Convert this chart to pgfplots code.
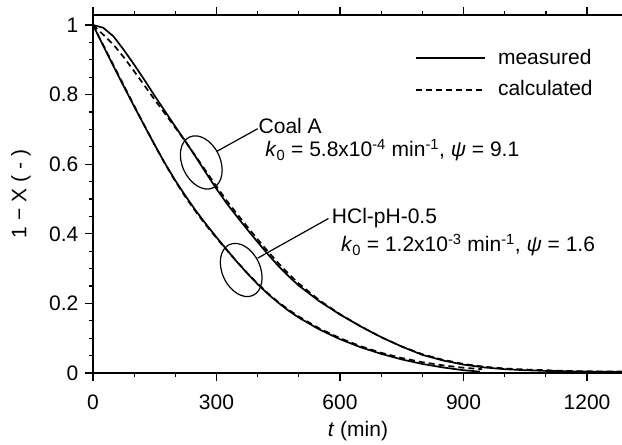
\documentclass[border=0pt]{standalone}
\usepackage{fontspec}
\setmainfont{Liberation Sans}
\usepackage{pgfplots}
\usepackage{pgfplotstable}
\pgfplotsset{compat=1.18}
\usetikzlibrary{shapes.geometric}

\pgfplotstableread{
t y
0 1.000
25 0.992
50 0.967
75 0.928
100 0.886
125 0.842
150 0.796
175 0.752
200 0.708
225 0.665
250 0.620
275 0.574
300 0.529
325 0.487
350 0.449
375 0.412
400 0.376
425 0.341
450 0.308
475 0.278
500 0.251
550 0.206
600 0.168
650 0.134
700 0.103
750 0.076
800 0.052
850 0.036
900 0.024
950 0.016
1000 0.011
1050 0.008
1100 0.006
1150 0.005
1200 0.004
1300 0.003
}\coalmeas

\pgfplotstableread{
t y
0 1.000
25 0.972
50 0.943
75 0.907
100 0.867
125 0.826
150 0.785
175 0.745
200 0.705
225 0.664
250 0.622
275 0.579
300 0.536
325 0.495
350 0.457
375 0.420
400 0.384
425 0.349
450 0.316
475 0.285
500 0.257
550 0.209
600 0.169
650 0.134
700 0.103
750 0.076
800 0.054
850 0.038
900 0.026
950 0.018
1000 0.013
1050 0.010
1100 0.008
1150 0.006
1200 0.005
1300 0.004
}\coalcalc

\pgfplotstableread{
t y
0 1.000
25 0.940
50 0.881
75 0.823
100 0.766
125 0.710
150 0.655
175 0.602
200 0.553
225 0.508
250 0.466
275 0.427
300 0.390
325 0.354
350 0.319
375 0.286
400 0.255
425 0.227
450 0.202
475 0.179
500 0.159
550 0.125
600 0.097
650 0.074
700 0.055
750 0.039
800 0.026
850 0.016
900 0.008
940 0.004
}\hclmeas

\pgfplotstableread{
t y
0 1.000
25 0.942
50 0.884
75 0.826
100 0.768
125 0.711
150 0.655
175 0.601
200 0.551
225 0.505
250 0.463
275 0.424
300 0.388
325 0.353
350 0.319
375 0.287
400 0.257
425 0.229
450 0.204
475 0.182
500 0.162
550 0.128
600 0.100
650 0.077
700 0.058
750 0.043
800 0.031
850 0.022
900 0.015
945 0.011
}\hclcalc

\begin{document}
\fontsize{21}{25}\selectfont
\begin{tikzpicture}
\begin{axis}[
  name=ax,
  at={(0pt,0pt)}, anchor=south west,
  scale only axis, width=535.2pt, height=358pt,
  xmin=0, xmax=1300, ymin=0, ymax=1.0287,
  axis line style={line width=1.4pt},
  tick align=outside,
  xtick pos=both, ytick pos=left,
  major tick length=7.5pt, minor tick length=4pt,
  tick style={line width=1.2pt, black},
  xtick={0,300,600,900,1200}, minor x tick num=2,
  ytick={0,0.2,0.4,0.6,0.8,1}, minor y tick num=3,
  /pgf/number format/assume math mode=true,
  /pgf/number format/1000 sep={},
  tick label style={font=\fontsize{21}{25}\selectfont},
  xticklabel style={yshift=-7pt},
  xlabel={\textit{t} (min)},
  ylabel={1 − X ( - )},
  xlabel style={at={(axis description cs:0.495,-0.162)}, anchor=center},
  ylabel style={at={(axis description cs:-0.1345,0.5)}, anchor=center},
  legend style={draw=none, fill=none, at={(axis description cs:0.6016,0.835)}, anchor=west,
    font=\fontsize{21}{25}\selectfont, row sep=9pt, inner sep=0pt,
    nodes={inner sep=2pt},
    /tikz/every odd column/.append style={column sep=10pt}},
  legend cell align=left,
  legend image code/.code={\draw[#1, line width=1.9pt] (0pt,0pt) -- (69pt,0pt);},
]
\addplot[black, line width=1.7pt] table[x=t,y=y] {\coalmeas};
\addlegendentry{measured}
\addplot[black, line width=1.7pt, dash pattern=on 6pt off 4pt] table[x=t,y=y] {\coalcalc};
\addlegendentry{calculated}
\addplot[black, line width=1.7pt, forget plot] table[x=t,y=y] {\hclmeas};
\addplot[black, line width=1.7pt, dash pattern=on 6pt off 4pt, forget plot] table[x=t,y=y] {\hclcalc};

\node[draw, ellipse, line width=1.2pt, minimum width=38pt, minimum height=56pt, inner sep=0pt, rotate=25] at (axis cs:263,0.605) {};
\node[draw, ellipse, line width=1.2pt, minimum width=38pt, minimum height=56pt, inner sep=0pt, rotate=25] at (axis cs:360,0.296) {};
\draw[line width=1.2pt] (axis cs:301,0.637) -- (axis cs:400,0.702);
\draw[line width=1.2pt] (axis cs:400,0.330) -- (axis cs:572,0.444);
\node[anchor=west, inner sep=0pt] at (axis cs:402,0.71) {Coal A};
\node[anchor=west, inner sep=0pt] at (axis cs:418,0.64) {\textit{k}\textsubscript{0} = 5.8x10\textsuperscript{-4} min\textsuperscript{-1}, \textit{ψ} = 9.1};
\node[anchor=west, inner sep=0pt] at (axis cs:580,0.445) {HCl-pH-0.5};
\node[anchor=west, inner sep=0pt] at (axis cs:602,0.367) {\textit{k}\textsubscript{0} = 1.2x10\textsuperscript{-3} min\textsuperscript{-1}, \textit{ψ} = 1.6};
\end{axis}
% top frame line and its outward ticks
\draw[black, line width=2pt] (-0.7pt,357.5pt) -- (535.2pt,357.5pt);
\foreach \t in {0,300,600,900,1200}
  \draw[black, line width=1.3pt] (\t*0.411692pt,358pt) -- ++(0,7.5pt);
\foreach \t in {100,200,400,500,700,800,1000,1100,1300}
  \draw[black, line width=1.3pt] (\t*0.411692pt,358pt) -- ++(0,4pt);
\pgfresetboundingbox
\path[use as bounding box] (-93pt,-72pt) rectangle (529pt,373pt);
\end{tikzpicture}
\end{document}
